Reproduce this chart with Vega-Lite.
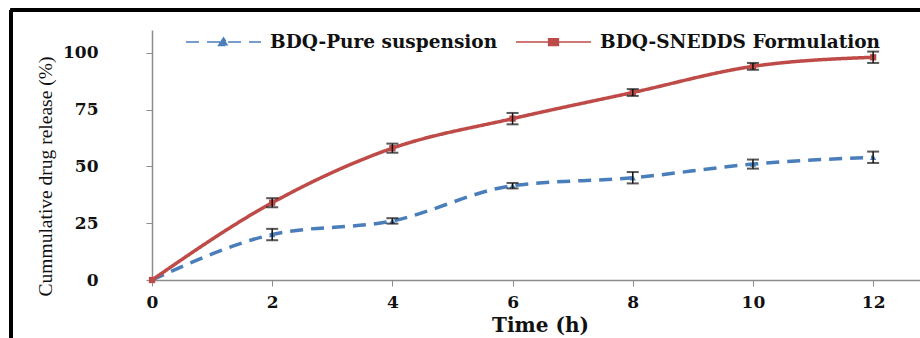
{
  "$schema": "https://vega.github.io/schema/vega-lite/v6.json",
  "width": 768,
  "height": 250,
  "autosize": {"type": "none"},
  "padding": {"left": 152, "top": 30, "right": 0, "bottom": 58},
  "background": "white",
  "config": {
    "view": {"stroke": null},
    "axis": {
      "grid": false,
      "domainColor": "#8c8c8c", "domainWidth": 1.5,
      "tickColor": "#8c8c8c", "tickSize": 6, "tickWidth": 1,
      "labelFont": "DejaVu Serif", "labelFontWeight": "bold", "labelFontSize": 17, "labelColor": "#111",
      "labelFlush": false,
      "titleColor": "#111"
    },
    "axisX": {
      "labelPadding": 8,
      "titleFont": "DejaVu Serif", "titleFontWeight": "bold", "titleFontSize": 20,
      "titleX": 388, "titleY": 45, "titleBaseline": "middle", "titleAlign": "center"
    },
    "axisY": {
      "labelPadding": 48, "labelAlign": "right",
      "titleFont": "Liberation Serif", "titleFontWeight": "normal", "titleFontSize": 19.5,
      "titleX": -107, "titleY": 146, "titleBaseline": "middle", "titleAlign": "center", "titleAngle": -90
    }
  },
  "data": {"values": [
    {"time": 0, "series": "BDQ-Pure suspension", "release": 0, "sd": 0},
    {"time": 2, "series": "BDQ-Pure suspension", "release": 20, "sd": 2.5},
    {"time": 4, "series": "BDQ-Pure suspension", "release": 26, "sd": 1.2},
    {"time": 6, "series": "BDQ-Pure suspension", "release": 41.5, "sd": 1.2},
    {"time": 8, "series": "BDQ-Pure suspension", "release": 45, "sd": 2.5},
    {"time": 10, "series": "BDQ-Pure suspension", "release": 51, "sd": 2},
    {"time": 12, "series": "BDQ-Pure suspension", "release": 54, "sd": 2.5},
    {"time": 0, "series": "BDQ-SNEDDS Formulation", "release": 0, "sd": 0},
    {"time": 2, "series": "BDQ-SNEDDS Formulation", "release": 34, "sd": 2},
    {"time": 4, "series": "BDQ-SNEDDS Formulation", "release": 58, "sd": 2},
    {"time": 6, "series": "BDQ-SNEDDS Formulation", "release": 71, "sd": 2.5},
    {"time": 8, "series": "BDQ-SNEDDS Formulation", "release": 82.5, "sd": 1.5},
    {"time": 10, "series": "BDQ-SNEDDS Formulation", "release": 94, "sd": 1.5},
    {"time": 12, "series": "BDQ-SNEDDS Formulation", "release": 98, "sd": 2.5}
  ]},
  "layer": [
    {
      "mark": {"type": "line", "interpolate": "monotone", "strokeWidth": 3.5},
      "encoding": {
        "x": {"field": "time", "type": "quantitative", "title": "Time (h)",
          "scale": {"domain": [0, 12.78], "nice": false, "zero": false},
          "axis": {"values": [0, 2, 4, 6, 8, 10, 12], "format": "d"}
        },
        "y": {"field": "release", "type": "quantitative", "title": "Cummulative drug release (%)",
          "scale": {"domain": [0, 110], "nice": false},
          "axis": {"values": [0, 25, 50, 75, 100], "format": "d"}
        },
        "color": {"field": "series", "type": "nominal",
          "scale": {"domain": ["BDQ-Pure suspension", "BDQ-SNEDDS Formulation"], "range": ["#4A7EBB", "#BE4B48"]},
          "legend": {
            "orient": "none", "direction": "horizontal",
            "legendX": 33, "legendY": -26.5,
            "title": null,
            "symbolSize": 5625,
            "symbolStrokeWidth": 1.5,
            "labelFont": "DejaVu Serif", "labelFontWeight": "bold", "labelFontSize": 18.5, "labelColor": "#111",
            "labelOffset": 8, "labelLimit": 400,
            "columnPadding": 15,
            "encode": {
              "symbols": {"update": {
                "shape": {"signal": "datum.value === 'BDQ-Pure suspension' ? 'M-1,0H1M-0.13,0.09L0,-0.11L0.13,0.09Z' : 'M-1,0H1M-0.13,-0.09H0.13V0.09H-0.13Z'"},
                "strokeDash": {"signal": "datum.value === 'BDQ-Pure suspension' ? [4,3] : [1,0]"},
                "fill": {"signal": "datum.value === 'BDQ-Pure suspension' ? '#4A7EBB' : '#BE4B48'"},
                "fillOpacity": {"value": 1}
              }}
            }
          }
        },
        "strokeDash": {"field": "series", "type": "nominal",
          "scale": {"domain": ["BDQ-Pure suspension", "BDQ-SNEDDS Formulation"], "range": [[13, 8], [1, 0]]},
          "legend": null
        }
      }
    },
    {
      "transform": [{"filter": "datum.series === 'BDQ-Pure suspension'"}],
      "mark": {"type": "point", "filled": true, "opacity": 1, "size": 40, "shape": "triangle-up", "color": "#4A7EBB"},
      "encoding": {
        "x": {"field": "time", "type": "quantitative"},
        "y": {"field": "release", "type": "quantitative"}
      }
    },
    {
      "transform": [{"filter": "datum.series === 'BDQ-SNEDDS Formulation'"}],
      "mark": {"type": "point", "filled": true, "opacity": 1, "size": 40, "shape": "square", "color": "#BE4B48"},
      "encoding": {
        "x": {"field": "time", "type": "quantitative"},
        "y": {"field": "release", "type": "quantitative"}
      }
    },
    {
      "transform": [{"filter": "datum.time > 0"}],
      "mark": {"type": "errorbar", "color": "#111", "ticks": {"size": 12, "thickness": 2}, "rule": {"strokeWidth": 1.5}},
      "encoding": {
        "x": {"field": "time", "type": "quantitative"},
        "y": {"field": "release", "type": "quantitative", "title": "Cummulative drug release (%)"},
        "yError": {"field": "sd"}
      }
    },
    {
      "mark": {"type": "rule", "color": "#000", "strokeWidth": 3, "clip": false},
      "encoding": {
        "x": {"datum": -2.35},
        "x2": {"datum": 12.78},
        "y": {"datum": 118.8}
      }
    },
    {
      "mark": {"type": "rule", "color": "#000", "strokeWidth": 3, "clip": false},
      "encoding": {
        "x": {"datum": -2.35},
        "y": {"datum": 118.8},
        "y2": {"datum": -30}
      }
    }
  ]
}
